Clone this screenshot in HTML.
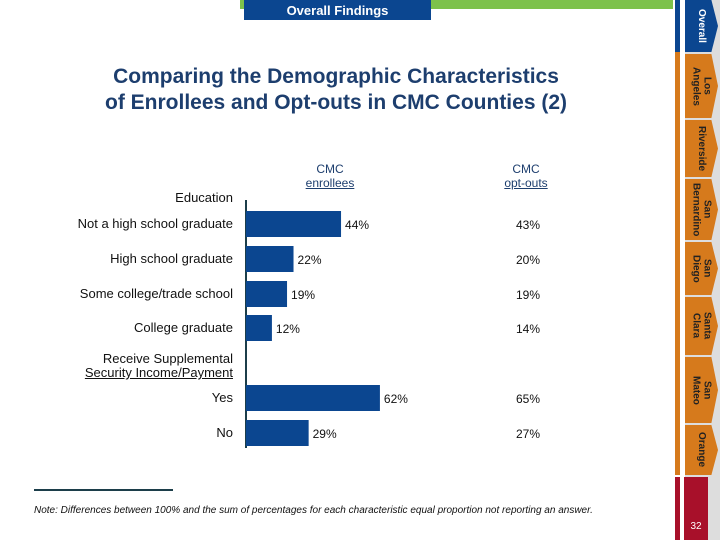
<!DOCTYPE html>
<html><head><meta charset="utf-8"><style>
body{margin:0;width:720px;height:540px;position:relative;background:#fff;font-family:"Liberation Sans",sans-serif;overflow:hidden}
.a{position:absolute}
.lbl{position:absolute;right:487px;font-size:13px;color:#111;text-align:right;white-space:nowrap}
.tab{position:absolute;left:685px;width:33px;display:flex;align-items:center;justify-content:center}
.tab span{writing-mode:vertical-rl;font-size:10px;font-weight:bold;color:#222;text-align:center;line-height:11px}
</style></head><body>
<div class="a" style="left:240px;top:0;width:433px;height:9px;background:#7dc24b"></div>
<div class="a" style="left:244px;top:0;width:187px;height:20px;background:#0b4690;color:#fff;font-size:13px;font-weight:bold;text-align:center;line-height:22px">Overall Findings</div>
<div class="a" style="left:685px;top:0;width:35px;height:540px;background:#ddd"></div>
<div class="a" style="left:675px;top:0;width:5px;height:52px;background:#0b4690"></div>
<div class="a" style="left:675px;top:52px;width:5px;height:423px;background:#d67a1c"></div>
<div class="a" style="left:675px;top:477px;width:5px;height:63px;background:#a8102a"></div>
<div id="tabs"></div>
<div class="a" style="left:684px;top:477px;width:24px;height:63px;background:#a8102a;color:#fff;font-size:10px;display:flex;align-items:flex-end;justify-content:center"><span style="margin-bottom:8px">32</span></div>
<div class="a" style="left:60px;top:64px;width:552px;text-align:center;font-size:21px;font-weight:bold;color:#1d3e6e;line-height:26px">Comparing the Demographic Characteristics<br>of Enrollees and Opt-outs in CMC Counties (2)</div>
<div class="a" style="left:280px;top:162px;width:100px;text-align:center;font-size:12px;color:#1d3e6e;line-height:14px">CMC<br><u>enrollees</u></div>
<div class="a" style="left:476px;top:162px;width:100px;text-align:center;font-size:12px;color:#1d3e6e;line-height:14px">CMC<br><u>opt-outs</u></div>
<div class="a" style="right:487px;top:190px;font-size:13px;color:#111">Education</div>
<div class="a" style="right:487px;top:352px;font-size:13px;color:#111;text-align:right;line-height:14px">Receive Supplemental<br><u>Security Income/Payment</u></div>
<div class="a" style="left:34px;top:489px;width:139px;height:2px;background:#1c3e4a"></div>
<div class="a" style="left:34px;top:505px;font-size:10px;font-style:italic;color:#111">Note: Differences between 100% and the sum of percentages for each characteristic equal proportion not reporting an answer.</div>
<svg class="a" style="left:0;top:0" width="670" height="540" id="chart"></svg>
<script>
const categories=["Not a high school graduate","High school graduate","Some college/trade school","College graduate","Yes","No"];
const enrollees=[44,22,19,12,62,29];
const optouts=[43,20,19,14,65,27];
const rowY=[224,259,294,328,398,433];
const x0=246,scale=2.16;
const xs=v=>x0+v*scale;
const svg=document.getElementById('chart');
const NS='http://www.w3.org/2000/svg';
const ax=document.createElementNS(NS,'line');
ax.setAttribute('x1',x0);ax.setAttribute('x2',x0);ax.setAttribute('y1',200);ax.setAttribute('y2',448);
ax.setAttribute('stroke','#1c3e4a');ax.setAttribute('stroke-width','2');


svg.appendChild(ax);
categories.forEach((c,i)=>{
 const y=rowY[i];
 const r=document.createElementNS(NS,'rect');
 r.setAttribute('x',x0);r.setAttribute('y',y-13);r.setAttribute('width',xs(enrollees[i])-x0);r.setAttribute('height',26);r.setAttribute('fill','#0b4690');
 
 
 svg.appendChild(r);
 const t=document.createElementNS(NS,'text');
 t.setAttribute('x',xs(enrollees[i])+4);t.setAttribute('y',y+5);t.setAttribute('font-size','12');t.setAttribute('fill','#111');t.setAttribute('font-family','Liberation Sans, sans-serif');
 t.textContent=enrollees[i]+'%';
 
 
 svg.appendChild(t);
 const o=document.createElementNS(NS,'text');
 o.setAttribute('x',528);o.setAttribute('y',y+5);o.setAttribute('text-anchor','middle');o.setAttribute('font-size','12');o.setAttribute('fill','#111');o.setAttribute('font-family','Liberation Sans, sans-serif');
 o.textContent=optouts[i]+'%';
 
 
 svg.appendChild(o);
 const l=document.createElement('div');
 l.className='lbl';l.style.top=(y-8)+'px';l.textContent=c;
 
 
 document.body.appendChild(l);
});
const tabs=[["Overall",0,52,"#0b4690","#fff"],["Los Angeles",54,118,"#d67a1c","#222"],["Riverside",120,177,"#d67a1c","#222"],["San Bernardino",179,240,"#d67a1c","#222"],["San Diego",242,295,"#d67a1c","#222"],["Santa Clara",297,355,"#d67a1c","#222"],["San Mateo",357,423,"#d67a1c","#222"],["Orange",425,475,"#d67a1c","#222"]];
tabs.forEach(t=>{
 const d=document.createElement('div');
 d.className='tab';d.style.top=t[1]+'px';d.style.height=(t[2]-t[1])+'px';d.style.background=t[3];
 d.style.clipPath='polygon(0 0,80% 0,100% 50%,80% 100%,0 100%)';
 d.innerHTML='<span style="color:'+t[4]+'">'+t[0].replace(' ','<br>')+'</span>';
 
 
 document.body.appendChild(d);
});
</script>
</body></html>
